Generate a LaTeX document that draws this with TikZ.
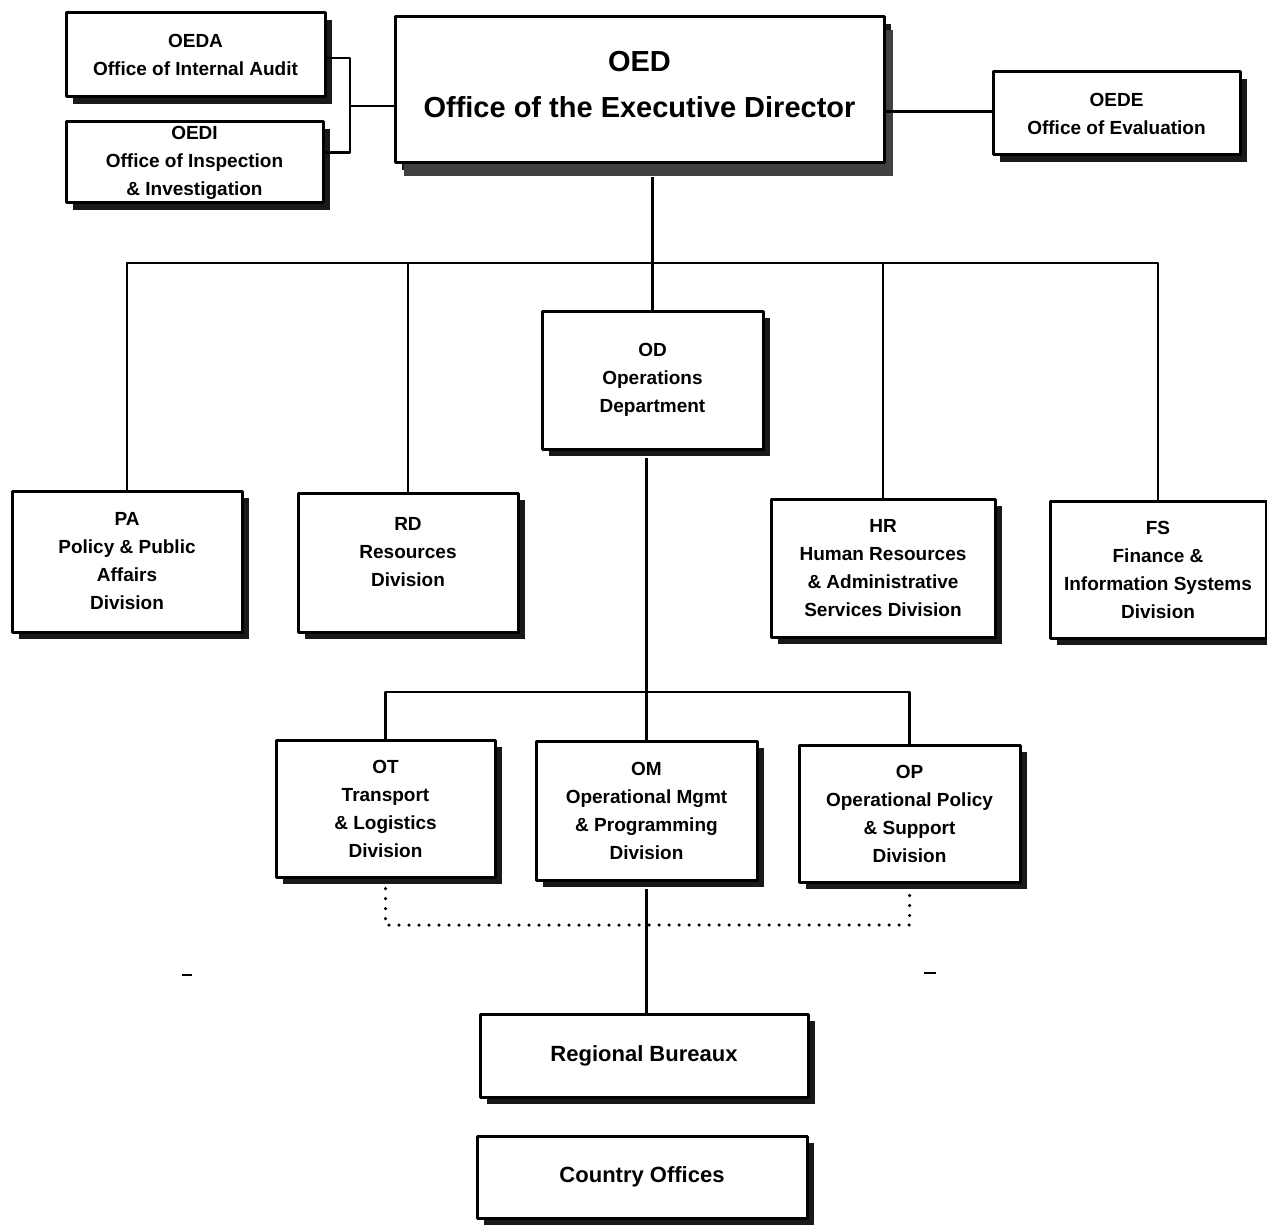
\documentclass[tikz,border=0pt]{standalone}
\usepackage{fontspec}
\setmainfont{Liberation Sans}
\usetikzlibrary{shadows}
\tikzset{
  unit/.style={draw, fill=white, line width=3pt, align=center, inner sep=2pt,
    font=\fontsize{19}{28}\selectfont\bfseries,
    drop shadow={shadow xshift=7pt, shadow yshift=-7pt, fill=black, opacity=.9}},
  topunit/.style={unit, font=\fontsize{29}{46}\selectfont\bfseries,
    drop shadow={shadow xshift=9pt, shadow yshift=-13pt, fill=black!75, opacity=1}},
  lowunit/.style={unit, font=\fontsize{22}{28}\selectfont\bfseries},
  link/.style={line width=2.8pt},
  dotline/.style={line width=3.5pt, line cap=round, dash pattern=on 0pt off 10pt}
}
\begin{document}
\begin{tikzpicture}[x=1pt, y=-1pt, line join=round]
  \useasboundingbox (0,0) rectangle (1267,1225);
  % executive level
  \node[unit, minimum width=259pt, minimum height=84pt] (oeda) at (195.5,55)
    {OEDA\\Office of Internal Audit};
  \node[unit, minimum width=257pt, minimum height=81pt] (oedi) at (194.5,162.5)
    {OEDI\\Office of Inspection\\\& Investigation};
  \node[topunit, minimum width=489pt, minimum height=146pt] (oed) at (639.5,90)
    {OED\\Office of the Executive Director\\[-34pt]};
  \node[unit, minimum width=247pt, minimum height=83pt] (oede) at (1116.5,113.5)
    {OEDE\\Office of Evaluation};
  % divisions
  \node[unit, minimum width=221pt, minimum height=138pt] (od) at (652.5,380)
    {OD\\Operations\\Department};
  \node[unit, minimum width=230pt, minimum height=141pt] (pa) at (127,561.5)
    {PA\\Policy \& Public\\Affairs\\Division};
  \node[unit, minimum width=220pt, minimum height=139pt] (rd) at (408,562.5)
    {RD\\Resources\\Division\\[-6pt]};
  \node[unit, minimum width=224pt, minimum height=138pt] (hr) at (883,568)
    {HR\\Human Resources\\\& Administrative\\Services Division};
  \node[unit, minimum width=216pt, minimum height=137pt] (fs) at (1158,569.5)
    {FS\\Finance \&\\Information Systems\\Division};
  % operations
  \node[unit, minimum width=219pt, minimum height=137pt] (ot) at (385.5,808.5)
    {OT\\Transport\\\& Logistics\\Division};
  \node[unit, minimum width=221pt, minimum height=139pt] (om) at (646.5,810.5)
    {OM\\Operational Mgmt\\\& Programming\\Division};
  \node[unit, minimum width=221pt, minimum height=137pt] (op) at (909.5,813.5)
    {OP\\Operational Policy\\\& Support\\Division};
  \node[lowunit, minimum width=328pt, minimum height=83pt] (rb) at (644,1055.5)
    {Regional Bureaux};
  \node[lowunit, minimum width=330pt, minimum height=82pt] (co) at (642,1177)
    {Country Offices};
  \coordinate (br) at (350,106);
  \coordinate (bus) at (652,263);
  \coordinate (lbus) at (646,692);
  \coordinate (dot) at (646,925);
  \draw[link] ([yshift=-3pt]oeda.east) -| (br) |- ([yshift=10pt]oedi.east);
  \draw[link] (br) -- (oed.west |- br);
  \draw[link] ([yshift=2pt]oed.east |- oede.west) -- ([yshift=2pt]oede.west);
  \draw[link] ([yshift=-13pt]od.north |- oed.south) -- (od.north);
  \draw[link] (pa.north) -- (pa.north |- bus) -- (fs.north |- bus) -- (fs.north);
  \draw[link] (rd.north |- bus) -- (rd.north);
  \draw[link] (hr.north |- bus) -- (hr.north);
  \draw[link] ([yshift=-7pt]od.south -| om.north) -- (om.north);
  \draw[link] (ot.north) |- (lbus) -| (op.north);
  \draw[link] ([yshift=-7pt]om.south) -- (om.south |- rb.north);
  \draw[dotline] ([yshift=-10pt]ot.south) |- (dot) -| ([yshift=-8pt]op.south);
  \draw[line width=2pt] (182,975) -- (192,975) (924,973) -- (936,973);
\end{tikzpicture}
\end{document}
